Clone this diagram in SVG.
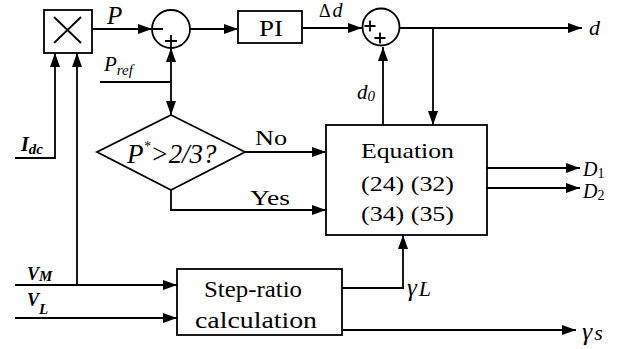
<svg xmlns="http://www.w3.org/2000/svg" width="633" height="349" viewBox="0 0 633 349">
<style>
.l{stroke:#000;stroke-width:1.8;fill:none}
.b{stroke:#000;stroke-width:1.8;fill:#fff}
text{font-family:"Liberation Serif","Times New Roman",serif;fill:#000}
.i{font-style:italic}
.bi{font-style:italic;font-weight:bold}
</style>
<defs>
<marker id="ab" viewBox="0 0 14 10" refX="14" refY="5" markerWidth="14" markerHeight="10" markerUnits="userSpaceOnUse" orient="auto"><path d="M0,0L14,5L0,10z" fill="#000"/></marker>
</defs>
<g id="connectors">
<path class="l" d="M92,29H152" marker-end="url(#ab)"/>
<path class="l" d="M190,29H238" marker-end="url(#ab)"/>
<path class="l" d="M302,28H362" marker-end="url(#ab)"/>
<path class="l" d="M400,28H582" marker-end="url(#ab)"/>
<path class="l" d="M433,28V125" marker-end="url(#ab)"/>
<path class="l" d="M383,125V47" marker-end="url(#ab)"/>
<path class="l" d="M100,82H171"/>
<path class="l" d="M171,82V48" marker-end="url(#ab)"/>
<path class="l" d="M171,82V115" marker-end="url(#ab)"/>
<path class="l" d="M245,152H326" marker-end="url(#ab)"/>
<path class="l" d="M171,190V210H326" marker-end="url(#ab)"/>
<path class="l" d="M15,158H55V53" marker-end="url(#ab)"/>
<path class="l" d="M77,285V53" marker-end="url(#ab)"/>
<path class="l" d="M15,285H177" marker-end="url(#ab)"/>
<path class="l" d="M15,318H177" marker-end="url(#ab)"/>
<path class="l" d="M487,168H580" marker-end="url(#ab)"/>
<path class="l" d="M487,188H580" marker-end="url(#ab)"/>
<path class="l" d="M342,288H403V235" marker-end="url(#ab)"/>
<path class="l" d="M342,330H576" marker-end="url(#ab)"/>
</g>
<g id="mult">
<rect class="b" x="44" y="10" width="48" height="43"/>
<path class="l" d="M54,17L81,43M81,17L54,43"/>
</g>
<g id="sum1">
<circle class="b" cx="171" cy="29" r="19"/>
<path class="l" d="M153,29H163M165,41H177M171,35V47"/>
</g>
<g id="pi">
<rect class="b" x="238" y="11" width="64" height="32"/>
<text x="259" y="36" font-size="24" textLength="24" lengthAdjust="spacingAndGlyphs">PI</text>
</g>
<g id="sum2">
<circle class="b" cx="381" cy="27" r="18.5"/>
<path class="l" d="M364.5,26H375.5M370,20.5V31.5M374.5,38H385.5M380,32.5V43.5"/>
</g>
<g id="decision">
<path class="b" d="M171,115L245,152L171,190L97,152z"/>
<text class="i" x="127" y="163" font-size="27"><tspan>P</tspan><tspan font-size="14" dy="-12">*</tspan><tspan dy="12" textLength="66" lengthAdjust="spacingAndGlyphs">&gt;2/3?</tspan></text>
</g>
<g id="equation">
<rect class="b" x="326" y="125" width="161" height="110"/>
<text x="361" y="158" font-size="22" textLength="93" lengthAdjust="spacingAndGlyphs">Equation</text>
<text x="361" y="191" font-size="22" textLength="93" lengthAdjust="spacingAndGlyphs">(24) (32)</text>
<text x="361" y="221" font-size="22" textLength="93" lengthAdjust="spacingAndGlyphs">(34) (35)</text>
</g>
<g id="stepratio">
<rect class="b" x="177" y="269" width="165" height="66"/>
<text x="204" y="297" font-size="23" textLength="98" lengthAdjust="spacingAndGlyphs">Step-ratio</text>
<text x="195" y="328" font-size="23" textLength="122" lengthAdjust="spacingAndGlyphs">calculation</text>
</g>
<g id="labels">
<text class="i" x="107" y="24" font-size="25">P</text>
<text class="i" x="104" y="71" font-size="21">P<tspan font-size="15" dy="4">ref</tspan></text>
<text x="319" y="17" font-size="18">Δ<tspan class="i" dx="2" font-size="20">d</tspan></text>
<text class="i" x="589" y="35" font-size="22">d</text>
<text class="i" x="357" y="99" font-size="21">d<tspan font-size="15" dy="2">0</tspan></text>
<text x="255" y="145" font-size="20" textLength="32" lengthAdjust="spacingAndGlyphs">No</text>
<text x="250" y="205" font-size="20" textLength="40" lengthAdjust="spacingAndGlyphs">Yes</text>
<text class="bi" x="21" y="151" font-size="20">I<tspan font-size="15" dy="3">dc</tspan></text>
<text class="bi" x="27" y="280" font-size="18">V<tspan font-size="15" dy="1">M</tspan></text>
<text class="bi" x="27" y="306" font-size="18">V<tspan font-size="15" dy="8">L</tspan></text>
<text class="i" x="583" y="176" font-size="20">D<tspan font-size="14" dy="2" font-style="normal">1</tspan></text>
<text class="i" x="583" y="198" font-size="20">D<tspan font-size="14" dy="2" font-style="normal">2</tspan></text>
<text class="i" x="407" y="296" font-size="25">γ<tspan dx="2" font-size="22">L</tspan></text>
<text class="i" x="582" y="340" font-size="26">γ<tspan dx="2" font-size="22">s</tspan></text>
</g>
</svg>
